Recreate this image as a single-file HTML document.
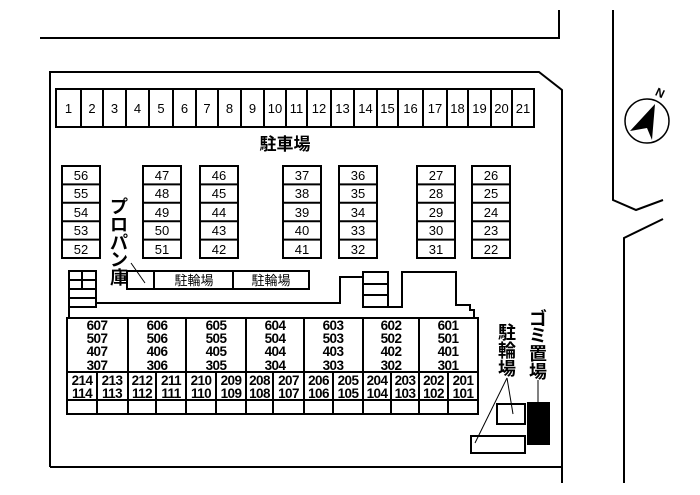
<!DOCTYPE html>
<html><head><meta charset="utf-8"><style>
html,body{margin:0;padding:0;background:#fff;}
svg{display:block;}
text{font-family:"Liberation Sans","Noto Sans CJK JP",sans-serif;fill:#000;}
.n{font-size:13px;text-anchor:middle;}
.b{font-size:13.5px;font-weight:bold;text-anchor:middle;letter-spacing:-0.6px;}
</style></head><body>
<svg width="700" height="495" viewBox="0 0 700 495" xmlns="http://www.w3.org/2000/svg">
<g fill="none" stroke="#000" stroke-width="2">
<polyline points="40,38 559,38 559,10"/>
<polyline points="50,467 50,72 539,72 562,90 562,483"/>
<line x1="50" y1="467" x2="562" y2="467"/>
<polyline points="613,10 613,200 636,210 663,200"/>
<polyline points="663,219 624,238 624,483"/>
<rect x="56" y="89" width="478" height="38"/>
<path d="M81 89V127M103 89V127M126 89V127M149 89V127M173 89V127M196 89V127M218 89V127M241 89V127M264 89V127M286 89V127M307 89V127M331 89V127M354 89V127M377 89V127M398 89V127M423 89V127M447 89V127M468 89V127M491 89V127M512 89V127"/>
<g>
<rect x="62" y="166" width="38" height="92"/><path d="M62 184.4H100M62 202.8H100M62 221.2H100M62 239.6H100"/>
<rect x="143" y="166" width="38" height="92"/><path d="M143 184.4H181M143 202.8H181M143 221.2H181M143 239.6H181"/>
<rect x="200" y="166" width="38" height="92"/><path d="M200 184.4H238M200 202.8H238M200 221.2H238M200 239.6H238"/>
<rect x="283" y="166" width="38" height="92"/><path d="M283 184.4H321M283 202.8H321M283 221.2H321M283 239.6H321"/>
<rect x="339" y="166" width="38" height="92"/><path d="M339 184.4H377M339 202.8H377M339 221.2H377M339 239.6H377"/>
<rect x="417" y="166" width="38" height="92"/><path d="M417 184.4H455M417 202.8H455M417 221.2H455M417 239.6H455"/>
<rect x="472" y="166" width="38" height="92"/><path d="M472 184.4H510M472 202.8H510M472 221.2H510M472 239.6H510"/>
</g>
<rect x="127" y="271" width="182" height="18"/>
<path d="M154 271V289M233 271V289"/>
<line x1="131" y1="263" x2="145" y2="283" stroke-width="1"/>
<path d="M69 271H96V307H69ZM69 280H96M69 289H96M69 298H96M82 271V289"/>
<polyline points="96,303 340,303 340,277 363,277"/>
<path d="M363 272H388V307H363ZM363 284H388M363 295H388"/>
<polyline points="388,307 402,307 402,272 456,272 456,305 470,305 470,310 474,310 474,318"/>
<line x1="69" y1="307" x2="69" y2="318"/>
<rect x="67" y="318" width="411" height="96"/>
<path d="M67 372H478M67 400H478"/>
<path d="M128 318V414M186 318V414M246 318V414M304 318V414M363 318V414M419 318V414"/>
<path d="M97 372V414M156 372V414M216 372V414M273 372V414M333 372V414M391 372V414M448 372V414"/>
<rect x="497" y="404" width="28" height="20"/>
<rect x="471" y="436" width="54" height="17"/>
<rect x="528" y="403" width="21" height="41" fill="#000"/>
<g stroke-width="1"><line x1="507" y1="378" x2="513" y2="414"/><line x1="507" y1="378" x2="475" y2="443"/><line x1="538" y1="380" x2="538" y2="403"/></g>
<circle cx="647" cy="121" r="22" stroke-width="1.5"/>
</g>
<polygon points="655,104 630,131 647,128 652,140" fill="#000"/>
<text x="660" y="97" font-size="12" font-weight="bold" transform="rotate(25 660 93)" text-anchor="middle">N</text>
<g class="n">
<text x="68.5" y="113">1</text><text x="92" y="113">2</text><text x="114.5" y="113">3</text><text x="137.5" y="113">4</text><text x="161" y="113">5</text><text x="184.5" y="113">6</text><text x="207" y="113">7</text><text x="229.5" y="113">8</text><text x="252.5" y="113">9</text><text x="275" y="113">10</text><text x="296.5" y="113">11</text><text x="319" y="113">12</text><text x="342.5" y="113">13</text><text x="365.5" y="113">14</text><text x="387.5" y="113">15</text><text x="410.5" y="113">16</text><text x="435" y="113">17</text><text x="457.5" y="113">18</text><text x="479.5" y="113">19</text><text x="501.5" y="113">20</text><text x="523" y="113">21</text>
</g>
<text x="285" y="150" font-size="17" font-weight="bold" text-anchor="middle">駐車場</text>
<g class="n">
<text x="81" y="180">56</text><text x="81" y="198">55</text><text x="81" y="217">54</text><text x="81" y="235">53</text><text x="81" y="254">52</text>
<text x="162" y="180">47</text><text x="162" y="198">48</text><text x="162" y="217">49</text><text x="162" y="235">50</text><text x="162" y="254">51</text>
<text x="219" y="180">46</text><text x="219" y="198">45</text><text x="219" y="217">44</text><text x="219" y="235">43</text><text x="219" y="254">42</text>
<text x="302" y="180">37</text><text x="302" y="198">38</text><text x="302" y="217">39</text><text x="302" y="235">40</text><text x="302" y="254">41</text>
<text x="358" y="180">36</text><text x="358" y="198">35</text><text x="358" y="217">34</text><text x="358" y="235">33</text><text x="358" y="254">32</text>
<text x="436" y="180">27</text><text x="436" y="198">28</text><text x="436" y="217">29</text><text x="436" y="235">30</text><text x="436" y="254">31</text>
<text x="491" y="180">26</text><text x="491" y="198">25</text><text x="491" y="217">24</text><text x="491" y="235">23</text><text x="491" y="254">22</text>
</g>
<g font-size="18" font-weight="bold" text-anchor="middle">
<text x="119" y="213">プ</text><text x="119" y="231">ロ</text><text x="119" y="249">パ</text><text x="119" y="266">ン</text><text x="119" y="284">庫</text>
</g>
<text x="194" y="285" font-size="13" text-anchor="middle">駐輪場</text>
<text x="271" y="285" font-size="13" text-anchor="middle">駐輪場</text>
<g class="b">
<text x="97" y="330">607</text><text x="97" y="343">507</text><text x="97" y="356">407</text><text x="97" y="370">307</text>
<text x="157" y="330">606</text><text x="157" y="343">506</text><text x="157" y="356">406</text><text x="157" y="370">306</text>
<text x="216" y="330">605</text><text x="216" y="343">505</text><text x="216" y="356">405</text><text x="216" y="370">305</text>
<text x="275" y="330">604</text><text x="275" y="343">504</text><text x="275" y="356">404</text><text x="275" y="370">304</text>
<text x="333" y="330">603</text><text x="333" y="343">503</text><text x="333" y="356">403</text><text x="333" y="370">303</text>
<text x="391" y="330">602</text><text x="391" y="343">502</text><text x="391" y="356">402</text><text x="391" y="370">302</text>
<text x="448" y="330">601</text><text x="448" y="343">501</text><text x="448" y="356">401</text><text x="448" y="370">301</text>
</g>
<g class="b">
<text x="82" y="385">214</text><text x="82" y="398">114</text>
<text x="112" y="385">213</text><text x="112" y="398">113</text>
<text x="142" y="385">212</text><text x="142" y="398">112</text>
<text x="171" y="385">211</text><text x="171" y="398">111</text>
<text x="201" y="385">210</text><text x="201" y="398">110</text>
<text x="231" y="385">209</text><text x="231" y="398">109</text>
<text x="259.5" y="385">208</text><text x="259.5" y="398">108</text>
<text x="288.5" y="385">207</text><text x="288.5" y="398">107</text>
<text x="318.5" y="385">206</text><text x="318.5" y="398">106</text>
<text x="348" y="385">205</text><text x="348" y="398">105</text>
<text x="377" y="385">204</text><text x="377" y="398">104</text>
<text x="405" y="385">203</text><text x="405" y="398">103</text>
<text x="433.5" y="385">202</text><text x="433.5" y="398">102</text>
<text x="463" y="385">201</text><text x="463" y="398">101</text>
</g>
<g font-size="18" font-weight="bold" text-anchor="middle">
<text x="507" y="339">駐</text><text x="507" y="357">輪</text><text x="507" y="375">場</text>
<text x="538" y="325">ゴ</text><text x="538" y="342">ミ</text><text x="538" y="360">置</text><text x="538" y="378">場</text>
</g>
</svg>
</body></html>
